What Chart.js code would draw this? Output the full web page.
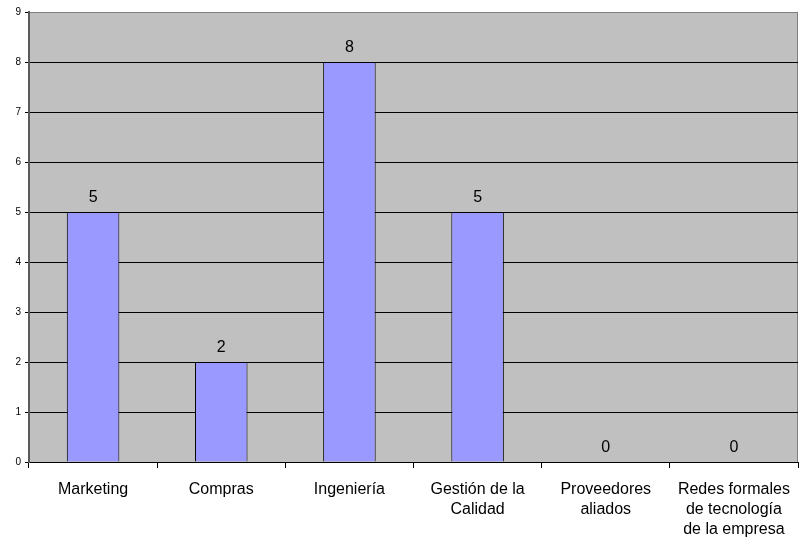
<!DOCTYPE html>
<html>
<head>
<meta charset="utf-8">
<script src="https://cdn.jsdelivr.net/npm/chart.js@4/dist/chart.umd.min.js"></script>
<style>
  html, body { margin: 0; padding: 0; background: #ffffff; }
  #wrap { width: 800px; height: 540px; }
</style>
</head>
<body>
<div id="wrap"><canvas id="c" width="800" height="540"></canvas></div>
<script>
// Categories and counts per area
const categories = [
  'Marketing',
  'Compras',
  'Ingeniería',
  ['Gestión de la', 'Calidad'],
  ['Proveedores', 'aliados'],
  ['Redes formales', 'de tecnología', 'de la empresa']
];
const values = [5, 2, 8, 5, 0, 0];
const yTicks = [0, 1, 2, 3, 4, 5, 6, 7, 8, 9];

const FONT = '"Liberation Sans", Arial, sans-serif';

// Gray plot background with a thin border
const plotBackground = {
  id: 'plotBackground',
  beforeDraw(chart) {
    const { ctx, chartArea: a } = chart;
    ctx.save();
    ctx.fillStyle = '#C0C0C0';
    ctx.fillRect(a.left, a.top, a.right - a.left, a.bottom - a.top);
    ctx.strokeStyle = '#808080';
    ctx.lineWidth = 1;
    ctx.strokeRect(a.left + 0.5, a.top + 0.5, a.right - a.left - 1, a.bottom - a.top);
    ctx.restore();
  }
};

// Value labels above each bar
const valueLabels = {
  id: 'valueLabels',
  afterDatasetsDraw(chart) {
    const { ctx } = chart;
    const meta = chart.getDatasetMeta(0);
    ctx.save();
    ctx.font = '16px ' + FONT;
    ctx.fillStyle = '#000000';
    ctx.textAlign = 'center';
    ctx.textBaseline = 'alphabetic';
    meta.data.forEach((bar, i) => {
      ctx.fillText(String(values[i]), bar.x, bar.y - 10);
    });
    ctx.restore();
  }
};

new Chart(document.getElementById('c'), {
  type: 'bar',
  data: {
    labels: categories,
    datasets: [{
      data: values,
      backgroundColor: '#9999FF',
      borderColor: '#000000',
      borderWidth: 1,
      barPercentage: 0.41,
      categoryPercentage: 1.0
    }]
  },
  options: {
    responsive: false,
    animation: false,
    devicePixelRatio: 1,
    layout: { padding: { top: 12, right: 2, left: 0, bottom: 0 } },
    plugins: {
      legend: { display: false },
      tooltip: { enabled: false }
    },
    scales: {
      x: {
        offset: true,
        grid: {
          offset: true,
          drawOnChartArea: false,
          drawTicks: true,
          tickLength: 6,
          color: '#000000'
        },
        border: { color: '#000000', width: 1 },
        ticks: {
          color: '#000000',
          font: { family: FONT, size: 16, lineHeight: 1.25 },
          padding: 12,
          maxRotation: 0,
          autoSkip: false
        },
        afterFit(scale) {
          scale.height = 78;
          scale.paddingLeft = 0;
          scale.paddingRight = 0;
        }
      },
      y: {
        min: 0,
        max: 9,
        afterBuildTicks(scale) {
          scale.ticks = yTicks.map(v => ({ value: v }));
        },
        grid: {
          color: ctx => (ctx.tick && ctx.tick.value === 9) ? '#808080' : '#000000',
          tickColor: '#000000',
          tickLength: 4,
          drawTicks: true
        },
        border: { color: '#5a5a5a', width: 2 },
        ticks: {
          color: '#000000',
          font: { family: FONT, size: 10 },
          padding: 4
        },
        afterFit(scale) {
          scale.width = 29;
          scale.paddingTop = 0;
          scale.paddingBottom = 0;
        }
      }
    }
  },
  plugins: [plotBackground, valueLabels]
});
</script>
</body>
</html>
